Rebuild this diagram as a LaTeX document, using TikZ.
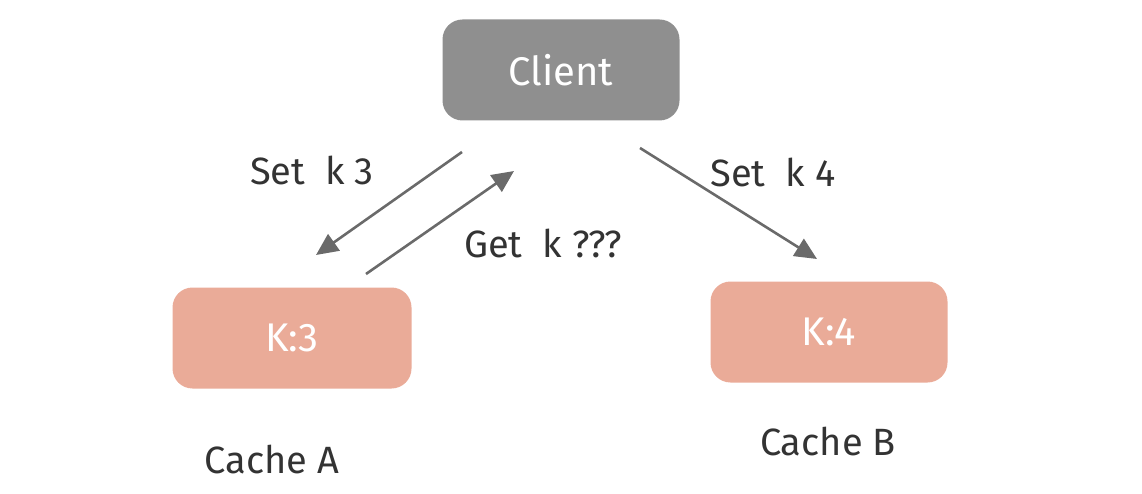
\documentclass[tikz,border=0pt]{standalone}
\usepackage{fontspec}
\setmainfont{Fira Sans}
\usetikzlibrary{arrows.meta}
\definecolor{clientgray}{HTML}{8F8F8F}
\definecolor{cachefill}{HTML}{EAAB98}
\definecolor{inkgray}{HTML}{333333}
\definecolor{arrowgray}{HTML}{6A6A6A}
\tikzset{
  box/.style={rounded corners=20pt, minimum width=237pt, minimum height=101pt, inner sep=0pt, text=white, font=\fontsize{40}{46}\selectfont},
  lbl/.style={text=inkgray, font=\fontsize{38}{44}\selectfont, inner sep=0pt},
  conn/.style={draw=arrowgray, line width=2.6pt, -{Triangle[length=22pt,width=20pt]}}
}
\begin{document}
\begin{tikzpicture}[x=1pt,y=-1pt]
\useasboundingbox (0,0) rectangle (1142,494);
\node[box, fill=clientgray] (client) at (561,70) {Client};
\node[box, fill=cachefill, minimum width=239pt] (k3) at (292,338) {K:3};
\node[box, fill=cachefill] (k4) at (829,332) {K:4};
\node[lbl] (cacheA) at (272,460) {Cache A};
\node[lbl] (cacheB) at (828,442) {Cache B};
\node[lbl] (set3) at (312,170) {Set\ \ k 3};
\node[lbl] (set4) at (773,172) {Set\ \ k 4};
\node[lbl] (get) at (543,243) {Get\ \ k ???};
\coordinate (s3a) at (462,152);
\coordinate (s3b) at (316,255);
\coordinate (ga) at (366,274);
\coordinate (gb) at (514,171);
\coordinate (s4a) at (640,148);
\coordinate (s4b) at (817,259);
\draw[conn] (s3a) -- (s3b);
\draw[conn] (ga) -- (gb);
\draw[conn] (s4a) -- (s4b);
\end{tikzpicture}
\end{document}
